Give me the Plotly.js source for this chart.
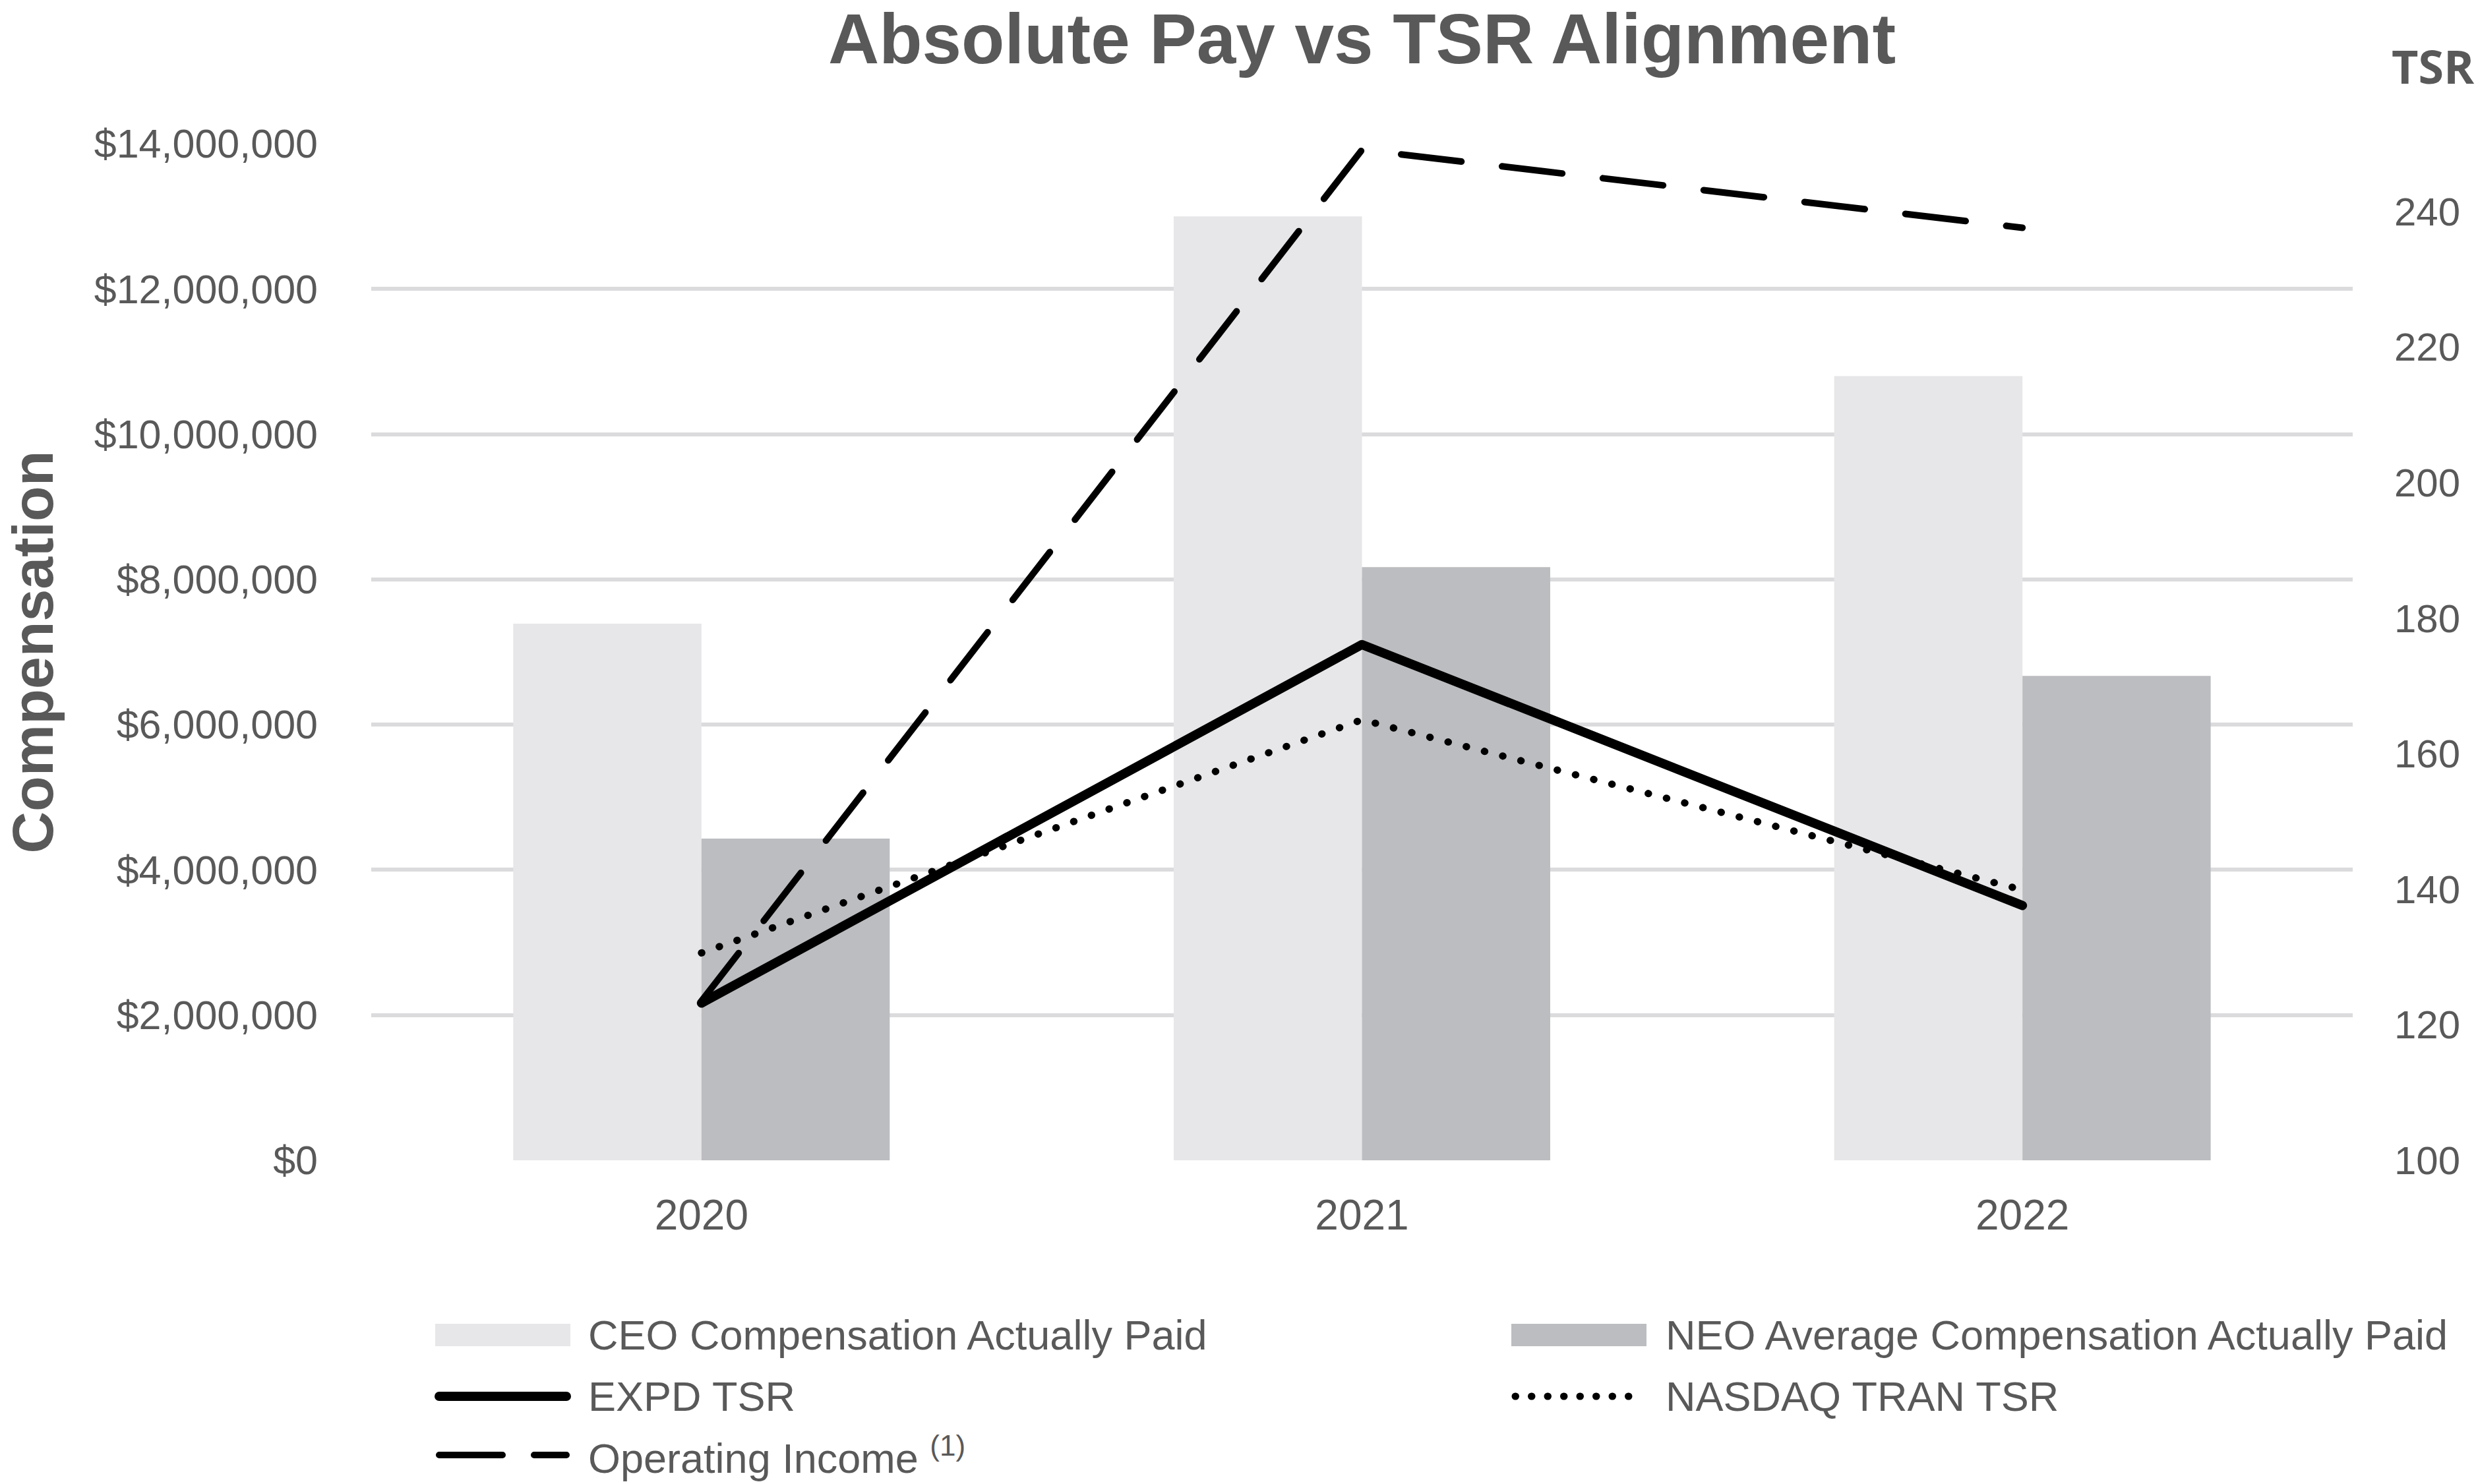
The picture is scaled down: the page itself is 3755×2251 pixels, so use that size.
<!DOCTYPE html>
<html>
<head>
<meta charset="utf-8">
<script src="https://cdn.plot.ly/plotly-3.0.1.min.js"></script>
<style>
html,body{margin:0;padding:0;background:#ffffff;}
#chart{width:3755px;height:2251px;}
</style>
</head>
<body>
<div id="chart"></div>
<script>
// ---------- DATA ----------
const years = ['2020', '2021', '2022'];
const ceoComp = [7390000, 13000000, 10800000];
const neoComp = [4430000, 8170000, 6670000];
const expdTSR = [123.2, 176.1, 137.6];
const nasdaqTSR = [130.6, 165.0, 139.9];
const opIncome = [123.5, 249.1, 237.6];
const seriesNames = [
  'CEO Compensation Actually Paid',
  'NEO Average Compensation Actually Paid',
  'EXPD TSR',
  'NASDAQ TRAN TSR',
  'Operating Income <sup>(1)</sup>'
];
const chartTitle = 'Absolute Pay vs TSR Alignment';
const leftAxisTitle = 'Compensation';
const rightAxisTitle = 'TSR';

// ---------- STYLE ----------
const W = 3755, H = 2251;
const PL = 563, PR = 3568, PT = 218, PB = 1760;
const TXT = '#595959';
const FONT = 'Liberation Sans, Arial, sans-serif';
const CEO_COL = '#E7E6E8';
const NEO_COL = '#BCBDC0';
const DOT_DASH = '0.5px,28px';
const LONG_DASH = '92px,62px';

const px2x = p => (p - PL) / (PR - PL);
const px2y = p => (PB - p) / (PB - PT);

const traces = [
  {type: 'bar', name: seriesNames[0], x: years, y: ceoComp, yaxis: 'y',
   marker: {color: CEO_COL, line: {width: 0}}, showlegend: false, hoverinfo: 'skip'},
  {type: 'bar', name: seriesNames[1], x: years, y: neoComp, yaxis: 'y',
   marker: {color: NEO_COL, line: {width: 0}}, showlegend: false, hoverinfo: 'skip'},
  {type: 'scatter', mode: 'lines', name: seriesNames[2], x: years, y: expdTSR, yaxis: 'y2',
   line: {color: '#000000', width: 14}, showlegend: false, hoverinfo: 'skip'},
  {type: 'scatter', mode: 'lines', name: seriesNames[3], x: years, y: nasdaqTSR, yaxis: 'y2',
   line: {color: '#000000', width: 11, dash: DOT_DASH}, showlegend: false, hoverinfo: 'skip'},
  {type: 'scatter', mode: 'lines', name: seriesNames[4], x: years, y: opIncome, yaxis: 'y2',
   line: {color: '#000000', width: 10, dash: LONG_DASH}, showlegend: false, hoverinfo: 'skip'}
];

// ---------- manual legend ----------
const legRows = [2025, 2118, 2207];
const col1 = {s0: 660, s1: 865, t: 890};
const col2 = {s0: 2292, s1: 2497, t: 2524};
const legendItems = [
  {col: col1, row: 0, kind: 'rect', color: CEO_COL, name: seriesNames[0]},
  {col: col2, row: 0, kind: 'rect', color: NEO_COL, name: seriesNames[1]},
  {col: col1, row: 1, kind: 'line', width: 14, dash: 'solid', name: seriesNames[2]},
  {col: col2, row: 1, kind: 'line', width: 11, dash: '0.5px,24px', name: seriesNames[3]},
  {col: col1, row: 2, kind: 'line', width: 10, dash: '96px,48px', name: seriesNames[4]}
];
const shapes = [];
const annotations = [];
legendItems.forEach(it => {
  const cy = legRows[it.row];
  if (it.kind === 'rect') {
    shapes.push({type: 'rect', xref: 'paper', yref: 'paper',
      x0: px2x(it.col.s0), x1: px2x(it.col.s1), y0: px2y(cy - 17), y1: px2y(cy + 17),
      fillcolor: it.color, line: {width: 0}});
  } else {
    shapes.push({type: 'line', xref: 'paper', yref: 'paper',
      x0: px2x(it.col.s0 + 6), x1: px2x(it.col.s1 - 6), y0: px2y(cy), y1: px2y(cy),
      line: {color: '#000000', width: it.width, dash: it.dash}});
  }
  annotations.push({xref: 'paper', yref: 'paper', x: px2x(it.col.t), y: px2y(cy),
    xanchor: 'left', yanchor: 'middle', showarrow: false, text: it.name,
    font: {family: FONT, size: 63, color: TXT}});
});
annotations.push({xref: 'paper', yref: 'paper', x: px2x(3690), y: px2y(100),
  xanchor: 'center', yanchor: 'middle', showarrow: false, text: rightAxisTitle,
  font: {family: 'Open Sans, sans-serif', size: 70, color: TXT, weight: 700}});

const layout = {
  width: W, height: H,
  paper_bgcolor: '#ffffff', plot_bgcolor: '#ffffff',
  margin: {l: PL, r: W - PR, t: PT, b: H - PB, pad: 0},
  font: {family: FONT, color: TXT},
  title: {text: chartTitle, x: 0.5, xref: 'paper', xanchor: 'center',
    y: 1 - 21 / H, yref: 'container', yanchor: 'top',
    font: {family: FONT, size: 107, color: TXT, weight: 700}},
  barmode: 'group', bargap: 0.43, bargroupgap: 0,
  showlegend: false,
  xaxis: {type: 'category', showgrid: false, zeroline: false, showline: false, ticks: '',
    tickfont: {family: FONT, size: 64, color: TXT}, ticklabelstandoff: 40, fixedrange: true},
  yaxis: {range: [0, 14000000], tick0: 0, dtick: 2000000, tickprefix: '$', tickformat: ',.0f',
    showgrid: true, gridcolor: '#DBDBDD', gridwidth: 6, zeroline: false, showline: false, ticks: '',
    tickfont: {family: FONT, size: 61, color: TXT}, ticklabelstandoff: 80,
    title: {text: leftAxisTitle, standoff: 38, font: {family: FONT, size: 88, color: TXT, weight: 700}},
    fixedrange: true},
  yaxis2: {overlaying: 'y', side: 'right', range: [100, 250], tick0: 100, dtick: 20,
    showgrid: false, zeroline: false, showline: false, ticks: '',
    tickfont: {family: FONT, size: 60, color: TXT}, ticklabelstandoff: 62, fixedrange: true},
  shapes: shapes,
  annotations: annotations
};

Plotly.newPlot('chart', traces, layout, {displayModeBar: false, staticPlot: true}).then(gd => {
  gd.querySelectorAll('.scatterlayer path.js-line, .shapelayer path').forEach(p => {
    p.style.strokeLinecap = 'round';
    p.style.strokeLinejoin = 'round';
  });
});
</script>
</body>
</html>
